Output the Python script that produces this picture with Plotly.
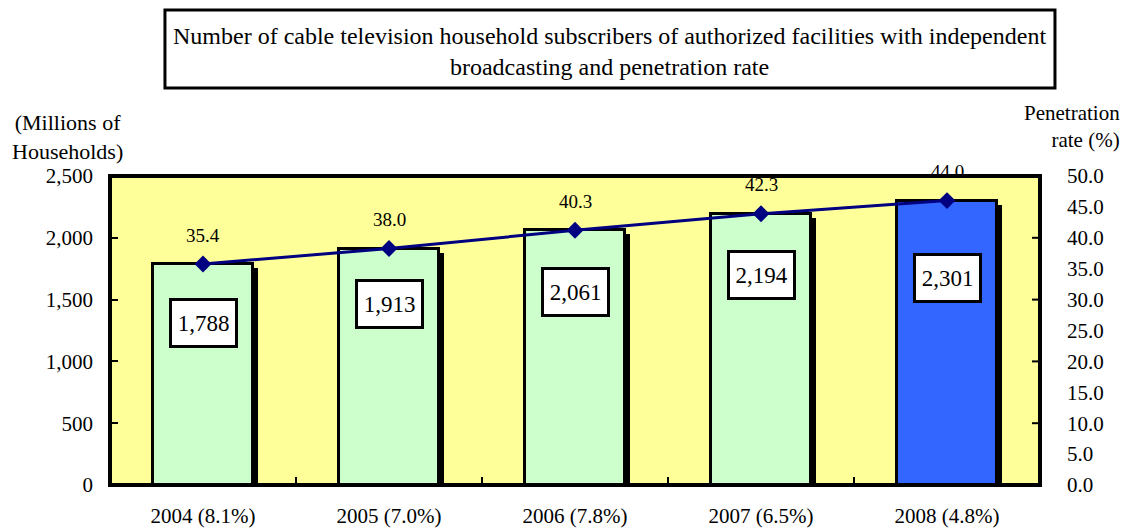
import plotly.graph_objects as go

years = ["2004 (8.1%)", "2005 (7.0%)", "2006 (7.8%)", "2007 (6.5%)", "2008 (4.8%)"]
subscribers = [1788, 1913, 2061, 2194, 2301]
rates = [35.4, 38.0, 40.3, 42.3, 44.0]
bar_colors = ["#CCFFCC", "#CCFFCC", "#CCFFCC", "#CCFFCC", "#3366FF"]
label_shift = [-59, -55, -62, -61, -77]

FONT = "Liberation Serif, Times New Roman, serif"
W = 0.54

fig = go.Figure()
# shadow bars
fig.add_trace(go.Bar(
    x=years, y=[v - 32 for v in subscribers], width=W, offset=-W / 2 + 0.028,
    marker=dict(color="black", line=dict(width=0)), hoverinfo="skip", showlegend=False,
))
# main bars
fig.add_trace(go.Bar(
    x=years, y=subscribers, width=W, offset=-W / 2,
    marker=dict(color=bar_colors, line=dict(color="black", width=3)), showlegend=False,
))
# line
fig.add_trace(go.Scatter(
    x=years, y=subscribers, mode="lines+markers",
    line=dict(color="#000080", width=3),
    marker=dict(symbol="diamond", size=13, color="#000080"), showlegend=False,
))
# right axis carrier
fig.add_trace(go.Scatter(x=years, y=rates, yaxis="y2", mode="markers",
                         marker=dict(opacity=0), hoverinfo="skip", showlegend=False))

annotations = []
for x, v, r, s in zip(years, subscribers, rates, label_shift):
    annotations.append(dict(
        x=x, y=v, yshift=s, text=f"{v:,}", showarrow=False,
        font=dict(family=FONT, size=23, color="black"),
        width=57, height=38,
        bgcolor="white", bordercolor="black", borderwidth=3, borderpad=3,
    ))
    annotations.append(dict(
        x=x, y=v, yshift=29, text=f"{r:.1f}", showarrow=False,
        font=dict(family=FONT, size=19, color="black"),
    ))

annotations += [
    dict(xref="paper", yref="paper", x=0.5376, y=1.4045, yanchor="middle", xanchor="center",
         text="Number of cable television household subscribers of authorized facilities with independent<br>broadcasting and penetration rate",
         showarrow=False, font=dict(family=FONT, size=24, color="black")),
    dict(xref="paper", yref="paper", x=-0.0462, y=1.126, xanchor="center", yanchor="middle",
         text="(Millions of<br>Households)", showarrow=False,
         font=dict(family=FONT, size=22, color="black")),
    dict(xref="paper", yref="paper", x=1.088, y=1.1586, xanchor="right", yanchor="middle",
         text="Penetration<br>rate (%)", showarrow=False, align="right",
         font=dict(family=FONT, size=21, color="black")),
]

fig.update_layout(
    width=1128, height=529,
    margin=dict(l=102, r=96, t=168, b=52, autoexpand=False),
    paper_bgcolor="white", plot_bgcolor="#FFFF99",
    barmode="overlay", bargap=0,
    font=dict(family=FONT, size=21, color="black"),
    xaxis=dict(type="category", tickson="boundaries", ticks="inside", ticklen=8,
               tickwidth=2, tickcolor="black", showline=False, showgrid=False,
               tickfont=dict(size=21), ticklabelstandoff=16),
    yaxis=dict(range=[0, 2500], tickvals=[0, 500, 1000, 1500, 2000, 2500],
               tickformat=",", ticks="inside", ticklen=8, tickwidth=2, tickcolor="black",
               showgrid=False, zeroline=False, ticklabelstandoff=16),
    yaxis2=dict(range=[0, 50], overlaying="y", side="right",
                tickvals=[0, 5, 10, 15, 20, 25, 30, 35, 40, 45, 50], tickformat=".1f",
                ticks="", showgrid=False, zeroline=False, ticklabelstandoff=26),
    annotations=annotations,
    shapes=[
        dict(type="rect", xref="paper", yref="paper", x0=0, x1=1, y0=0, y1=1,
             line=dict(color="black", width=4), layer="above"),
        dict(type="rect", xref="paper", yref="paper", x0=0.0591, x1=1.0161,
             y0=1.2848, y1=1.537,
             line=dict(color="black", width=3), fillcolor="white", layer="below"),
    ],
)
for v in [10, 20, 30, 40]:
    fig.add_shape(type="line", xref="paper", yref="y2", x0=1, x1=0.9914, y0=v, y1=v,
                  line=dict(color="black", width=2))

fig.write_html("out.html")
